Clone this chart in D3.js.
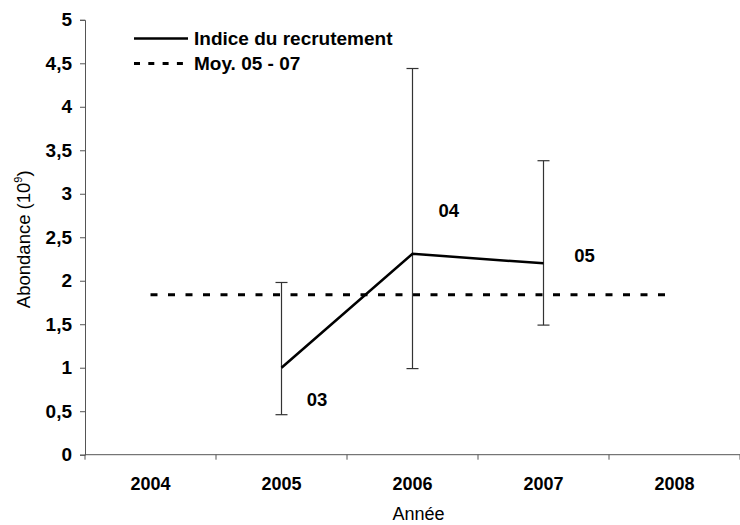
<!DOCTYPE html>
<html>
<head>
<meta charset="utf-8">
<script src="https://cdn.jsdelivr.net/npm/d3@7"></script>
<style>
body { margin: 0; background: #fff; }
svg { display: block; font-family: "Liberation Sans", Arial, sans-serif; }
</style>
</head>
<body>
<div id="chart"></div>
<script>
const years = ["2004", "2005", "2006", "2007", "2008"]
const serieYears = ["2005", "2006", "2007"]
const indice = [1.0, 2.31, 2.2]
const errLow = [0.46, 0.99, 1.49]
const errHigh = [1.98, 4.44, 3.38]
const pointLabels = ["03", "04", "05"]
const moyenne = 1.84
const yTicks = [0, 0.5, 1, 1.5, 2, 2.5, 3, 3.5, 4, 4.5, 5]

const width = 740, height = 525
const margin = {top: 19.8, right: 0, bottom: 70.3, left: 85}

const x = d3.scaleBand()
    .domain(years)
    .range([margin.left, width - margin.right])
    .padding(0)

const y = d3.scaleLinear()
    .domain([0, 5])
    .range([height - margin.bottom, margin.top])

const cx = d => x(d) + x.bandwidth() / 2
const fmt = d => String(d).replace(".", ",")

const svg = d3.select("#chart").append("svg")
    .attr("width", width)
    .attr("height", height)

// axe Y
const yAxis = svg.append("g")
    .attr("transform", `translate(${margin.left},0)`)
    .call(d3.axisLeft(y).tickValues(yTicks).tickFormat(fmt).tickSize(5).tickPadding(8))
yAxis.select(".domain").attr("stroke", "#555")
yAxis.selectAll(".tick line").attr("stroke", "#555")
yAxis.selectAll("text")
    .attr("font-size", 19)
    .attr("font-weight", "bold")
    .attr("fill", "#000")
    .attr("font-family", "Liberation Sans, Arial, sans-serif")

// axe X
const y0 = y(0)
svg.append("line")
    .attr("x1", margin.left).attr("x2", width - margin.right)
    .attr("y1", y0).attr("y2", y0)
    .attr("stroke", "#555")

const bounds = years.map(d => x(d)).concat([x(years[years.length - 1]) + x.bandwidth()])
svg.append("g").selectAll("line")
    .data(bounds)
    .join("line")
    .attr("x1", d => d).attr("x2", d => d)
    .attr("y1", y0).attr("y2", y0 + 5)
    .attr("stroke", "#555")

svg.append("g").selectAll("text")
    .data(years)
    .join("text")
    .attr("x", cx)
    .attr("y", y0 + 35)
    .attr("text-anchor", "middle")
    .attr("font-size", 18)
    .attr("font-weight", "bold")
    .text(d => d)

// titres des axes
svg.append("text")
    .attr("x", (margin.left + width) / 2 + 6)
    .attr("y", 520)
    .attr("text-anchor", "middle")
    .attr("font-size", 18)
    .text("Année")

const yt = svg.append("text")
    .attr("transform", `translate(29.5,${(y(0) + y(5)) / 2 + 2}) rotate(-90)`)
    .attr("text-anchor", "middle")
    .attr("font-size", 18.5)
yt.append("tspan").text("Abondance (10")
yt.append("tspan").text("9").attr("font-size", 11).attr("dy", -8)
yt.append("tspan").text(")").attr("dy", 8)

// moyenne
svg.append("line")
    .attr("x1", cx(years[0])).attr("x2", cx(years[years.length - 1]))
    .attr("y1", y(moyenne)).attr("y2", y(moyenne))
    .attr("stroke", "#000")
    .attr("stroke-width", 3)
    .attr("stroke-dasharray", "7,10.5")

// barres d'erreur
const errs = svg.append("g").attr("stroke", "#333").attr("stroke-width", 1.2)
serieYears.forEach((yr, i) => {
    errs.append("line")
        .attr("x1", cx(yr)).attr("x2", cx(yr))
        .attr("y1", y(errLow[i])).attr("y2", y(errHigh[i]))
    ;[errLow[i], errHigh[i]].forEach(v => {
        errs.append("line")
            .attr("x1", cx(yr) - 6).attr("x2", cx(yr) + 6)
            .attr("y1", y(v)).attr("y2", y(v))
    })
})

// indice du recrutement
const line = d3.line()
    .x((d, i) => cx(serieYears[i]))
    .y(d => y(d))
svg.append("path")
    .datum(indice)
    .attr("fill", "none")
    .attr("stroke", "#000")
    .attr("stroke-width", 2.5)
    .attr("d", line)

// étiquettes des points
const labelOffsets = [[35.5, 32], [36.3, -43.3], [41, -7.6]]
svg.append("g").selectAll("text")
    .data(pointLabels)
    .join("text")
    .attr("x", (d, i) => cx(serieYears[i]) + labelOffsets[i][0])
    .attr("y", (d, i) => y(indice[i]) + labelOffsets[i][1])
    .attr("dy", "0.35em")
    .attr("text-anchor", "middle")
    .attr("font-size", 18.5)
    .attr("font-weight", "bold")
    .text(d => d)

// légende
const leg = svg.append("g")
leg.append("line")
    .attr("x1", 134).attr("x2", 188).attr("y1", 38.5).attr("y2", 38.5)
    .attr("stroke", "#000").attr("stroke-width", 2.5)
leg.append("text")
    .attr("x", 194).attr("y", 38.5).attr("dy", "0.35em")
    .attr("font-size", 19).attr("font-weight", "bold")
    .text("Indice du recrutement")
leg.append("line")
    .attr("x1", 134).attr("x2", 190).attr("y1", 63.5).attr("y2", 63.5)
    .attr("stroke", "#000").attr("stroke-width", 3)
    .attr("stroke-dasharray", "6,8.3")
leg.append("text")
    .attr("x", 194).attr("y", 63.5).attr("dy", "0.35em")
    .attr("font-size", 19).attr("font-weight", "bold")
    .text("Moy. 05 - 07")
</script>
</body>
</html>
